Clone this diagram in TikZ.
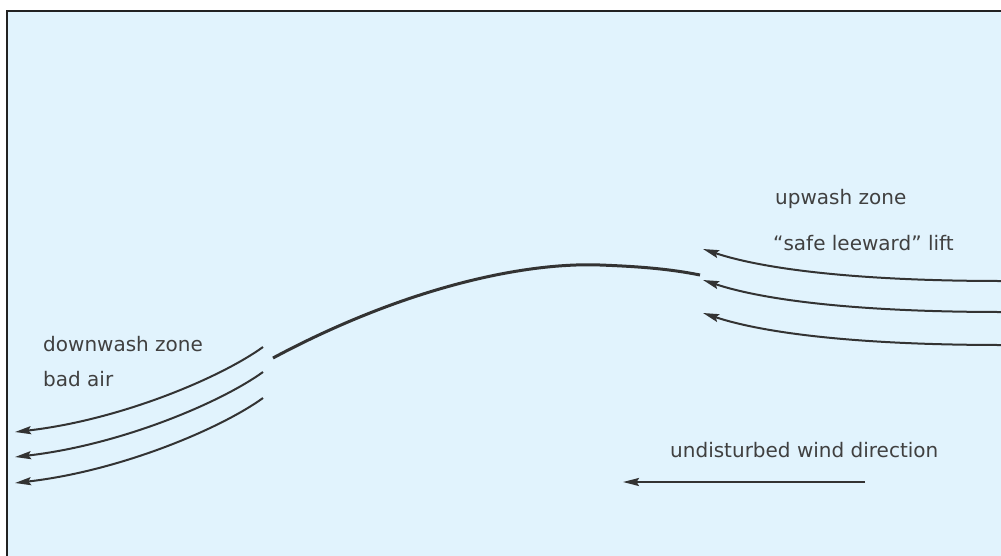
\documentclass[tikz,border=0pt]{standalone}
\usepackage{fontspec}
\setmainfont{DejaVu Sans}
\usetikzlibrary{arrows.meta}
\definecolor{bgblue}{RGB}{225,243,253}
\definecolor{ink}{RGB}{51,51,51}
\definecolor{txt}{RGB}{64,64,64}
\definecolor{frame}{RGB}{34,34,34}
\begin{document}
\begin{tikzpicture}[x=1pt,y=-1pt,
  lbl/.style={anchor=base west,inner sep=0pt,text=txt,font=\fontsize{20}{24}\selectfont},
  flow/.style={draw=ink,line width=2pt,-{Stealth[length=16pt,width=8pt,inset=2.5pt]}},
  wing/.style={draw=ink,line width=3pt}]
\useasboundingbox (0,0) rectangle (1001,555);
\fill[white] (0,0) rectangle (1001,555);
\fill[bgblue] (7,11) rectangle (1003,557);
\draw[frame,line width=2.8pt] (7,557) -- (7,11) -- (1003,11);
% labels
\node[lbl] (up) at (775,204) {upwash zone};
\node[lbl] (safe) at (773,250) {“safe leeward” lift};
\node[lbl] (down) at (43,351) {downwash zone};
\node[lbl] (bad) at (43,386) {bad air};
\node[lbl] (und) at (670,457) {undisturbed wind direction};
% coordinates
\coordinate (ua1) at (1003,281); \coordinate (ut1) at (703,249);
\coordinate (ua2) at (1003,312); \coordinate (ut2) at (703,280);
\coordinate (ua3) at (1003,345); \coordinate (ut3) at (703,313);
\coordinate (da1) at (263,347); \coordinate (dt1) at (15,432);
\coordinate (da2) at (263,372); \coordinate (dt2) at (15,457);
\coordinate (da3) at (263,398); \coordinate (dt3) at (15,483);
\coordinate (ws) at (273,358); \coordinate (wp) at (600,265); \coordinate (we) at (700,275);
\coordinate (ws0) at (865,482); \coordinate (wt0) at (623,482);
% wing
\draw[wing] (ws) .. controls (400,290) and (520,262) .. (wp) .. controls (640,266.5) and (670,269) .. (we);
% upwash arrows
\draw[flow] (ua1) .. controls (850,281) and (760,268) .. (ut1);
\draw[flow] (ua2) .. controls (850,312) and (760,299) .. (ut2);
\draw[flow] (ua3) .. controls (850,345) and (760,332) .. (ut3);
% downwash arrows
\draw[flow] (da1) .. controls (220,378) and (120,420) .. (dt1);
\draw[flow] (da2) .. controls (220,403) and (120,445) .. (dt2);
\draw[flow] (da3) .. controls (220,429) and (120,471) .. (dt3);
% undisturbed wind
\draw[flow] (ws0) -- (wt0);
\end{tikzpicture}
\end{document}
